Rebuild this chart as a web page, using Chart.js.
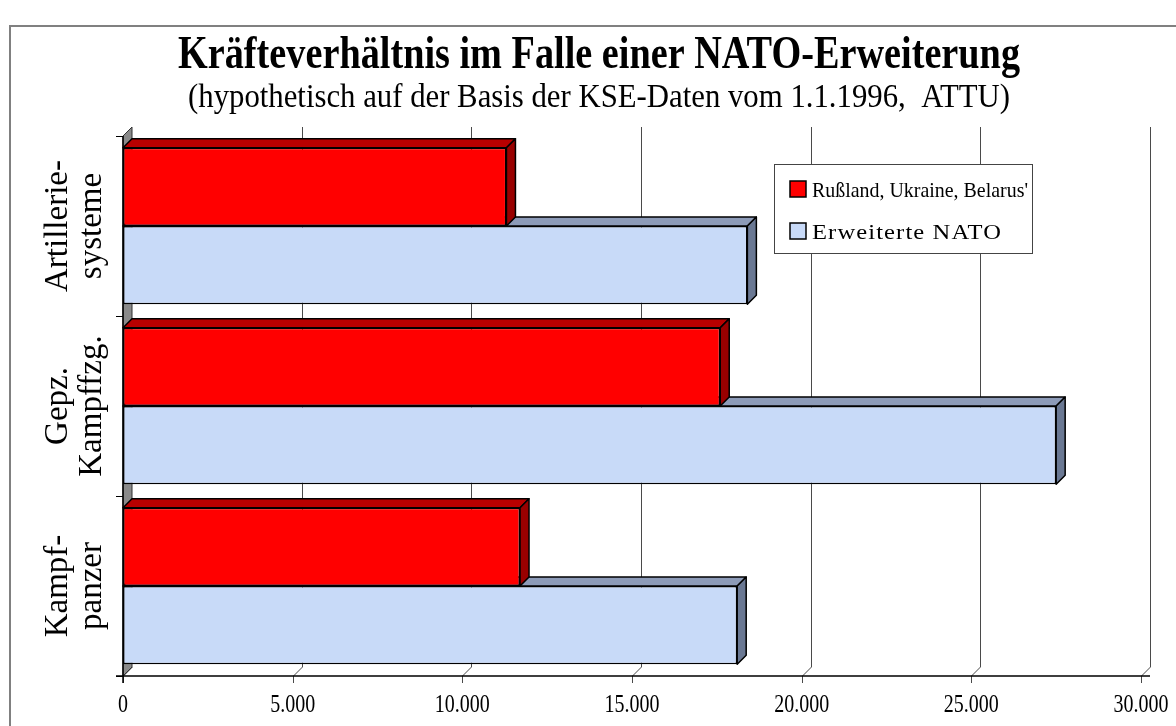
<!DOCTYPE html>
<html>
<head>
<meta charset="utf-8">
<script src="https://cdn.jsdelivr.net/npm/chart.js@4.4.1/dist/chart.umd.min.js"></script>
<style>
  html, body { margin: 0; padding: 0; background: #ffffff; }
  #wrap { width: 1176px; height: 726px; position: relative; }
</style>
</head>
<body>
<div id="wrap"><canvas id="c" width="1176" height="726"></canvas></div>
<script>
// ---- data ----
const titleText = 'Kräfteverhältnis im Falle einer NATO-Erweiterung';
const subtitleText = '(hypothetisch auf der Basis der KSE-Daten vom 1.1.1996,  ATTU)';
const categories = [['Artillerie-', 'systeme'], ['Gepz.', 'Kampffzg.'], ['Kampf-', 'panzer']];
const seriesNames = ["Rußland, Ukraine, Belarus'", 'Erweiterte NATO'];
const russiaUkraineBelarus = [11300, 17600, 11700];
const extendedNato = [18400, 27500, 18100];
const xTicks = [0, 5000, 10000, 15000, 20000, 25000, 30000];

// ---- style ----
const SERIF = '"Liberation Serif", "Times New Roman", serif';
const DEPTH = 9;
const faceColors = [
  { front: '#ff0000', top: '#b80000', side: '#990000' },
  { front: '#c8daf8', top: '#8d9bb8', side: '#6a7893' }
];

function fmt(v) { return String(v).replace(/\B(?=(\d{3})+(?!\d))/g, '.'); }

function fitText(ctx, text, x, y, font, width, align) {
  ctx.save();
  ctx.font = font;
  const w = ctx.measureText(text).width;
  const s = width ? width / w : 1;
  ctx.translate(x, y);
  ctx.scale(s, 1);
  ctx.textAlign = align || 'center';
  ctx.textBaseline = 'alphabetic';
  ctx.fillStyle = '#000';
  ctx.fillText(text, 0, 0);
  ctx.restore();
}

function poly(ctx, pts, fill, stroke, lw) {
  ctx.beginPath();
  ctx.moveTo(pts[0][0], pts[0][1]);
  for (let i = 1; i < pts.length; i++) ctx.lineTo(pts[i][0], pts[i][1]);
  ctx.closePath();
  if (fill) { ctx.fillStyle = fill; ctx.fill(); }
  if (stroke) { ctx.strokeStyle = stroke; ctx.lineWidth = lw || 1; ctx.stroke(); }
}

const scenePlugin = {
  id: 'scene',
  beforeDatasetsDraw(chart) {
    const ctx = chart.ctx;
    const a = chart.chartArea;
    const xs = chart.scales.x, ys = chart.scales.y;
    ctx.save();
    // outer frame
    ctx.strokeStyle = '#808080'; ctx.lineWidth = 2;
    ctx.beginPath(); ctx.moveTo(10, 727); ctx.lineTo(10, 26); ctx.lineTo(1177, 26); ctx.stroke();

    // titles
    fitText(ctx, titleText, 599, 68, 'bold 46px ' + SERIF, 842);
    fitText(ctx, subtitleText, 599, 107, '33px ' + SERIF, 822);

    // back gridlines + floor lines
    ctx.strokeStyle = '#4a4a4a'; ctx.lineWidth = 1;
    xTicks.forEach(v => {
      const px = Math.round(xs.getPixelForValue(v)) + 0.5;
      ctx.beginPath();
      ctx.moveTo(px, a.bottom + 7);
      ctx.lineTo(px, a.bottom);
      ctx.lineTo(px + DEPTH, a.bottom - DEPTH);
      if (v > 0) ctx.lineTo(px + DEPTH, a.top - DEPTH);
      ctx.stroke();
    });

    // left wall
    poly(ctx, [[a.left, a.top], [a.left + DEPTH, a.top - DEPTH], [a.left + DEPTH, a.bottom - DEPTH], [a.left, a.bottom]], '#8a8a8a', '#333', 1);

    // axes lines
    ctx.strokeStyle = '#000'; ctx.lineWidth = 1.5;
    ctx.beginPath();
    ctx.moveTo(a.left - 7, a.bottom); ctx.lineTo(1150, a.bottom);
    ctx.moveTo(a.left, a.top); ctx.lineTo(a.left, a.bottom + 7);
    ctx.stroke();
    // category ticks at band boundaries
    ctx.lineWidth = 1;
    for (let i = 0; i <= categories.length; i++) {
      const yy = Math.round(a.top + (a.bottom - a.top) * i / categories.length) + 0.5;
      ctx.beginPath(); ctx.moveTo(a.left - 7, yy); ctx.lineTo(a.left, yy); ctx.stroke();
    }

    // x tick labels
    xTicks.forEach(v => {
      const px = xs.getPixelForValue(v);
      ctx.save();
      ctx.font = '25px ' + SERIF;
      ctx.translate(px, 712); ctx.scale(0.8, 1);
      ctx.textAlign = 'center'; ctx.fillStyle = '#000';
      ctx.fillText(fmt(v), 0, 0);
      ctx.restore();
    });

    // category labels (rotated)
    categories.forEach((lines, i) => {
      const cy = ys.getPixelForValue(i);
      lines.forEach((t, j) => {
        ctx.save();
        ctx.translate(67 + j * 34, cy);
        ctx.rotate(-Math.PI / 2);
        ctx.font = '33px ' + SERIF;
        ctx.textAlign = 'center'; ctx.textBaseline = 'alphabetic'; ctx.fillStyle = '#000';
        ctx.fillText(t, 0, 0);
        ctx.restore();
      });
    });
    ctx.restore();
  },
  beforeDatasetDraw(chart, args) {
    const ctx = chart.ctx;
    const c = faceColors[args.index];
    ctx.save();
    ctx.lineJoin = 'round';
    args.meta.data.forEach(el => {
      const p = el.getProps(['x', 'y', 'base', 'height'], true);
      const top = p.y - p.height / 2, bottom = p.y + p.height / 2;
      const x0 = p.base, x1 = p.x;
      poly(ctx, [[x0, top], [x0 + DEPTH, top - DEPTH], [x1 + DEPTH, top - DEPTH], [x1, top]], c.top, '#000', 1.5);
      poly(ctx, [[x1, top], [x1 + DEPTH, top - DEPTH], [x1 + DEPTH, bottom - DEPTH], [x1, bottom]], c.side, '#000', 1.5);
    });
    ctx.restore();
  },
  afterDatasetsDraw(chart) {
    const ctx = chart.ctx;
    ctx.save();
    // legend box
    const bx = 774, by = 164, bw = 258, bh = 89;
    ctx.fillStyle = '#fff'; ctx.fillRect(bx, by, bw, bh);
    ctx.strokeStyle = '#444'; ctx.lineWidth = 1; ctx.strokeRect(bx + 0.5, by + 0.5, bw, bh);
    const rows = [{ y: 181, base: 197, w: 216 }, { y: 223, base: 239, w: 190 }];
    seriesNames.forEach((name, i) => {
      ctx.fillStyle = faceColors[i].front;
      ctx.fillRect(790, rows[i].y, 16, 16);
      ctx.strokeStyle = '#000'; ctx.lineWidth = 1.5;
      ctx.strokeRect(790, rows[i].y, 16, 16);
      ctx.save();
      if (i === 1) ctx.letterSpacing = '1px';
      fitText(ctx, name, 812, rows[i].base, '22px ' + SERIF, rows[i].w, 'left');
      ctx.restore();
    });
    ctx.restore();
  }
};

new Chart(document.getElementById('c'), {
  type: 'bar',
  data: {
    labels: categories,
    datasets: [
      { label: seriesNames[0], data: russiaUkraineBelarus, backgroundColor: faceColors[0].front,
        borderColor: '#000', borderWidth: 1.5, borderSkipped: false },
      { label: seriesNames[1], data: extendedNato, backgroundColor: faceColors[1].front,
        borderColor: '#000', borderWidth: 1.5, borderSkipped: false }
    ]
  },
  options: {
    indexAxis: 'y',
    responsive: false,
    devicePixelRatio: 1,
    animation: false,
    categoryPercentage: 0.87,
    barPercentage: 1.0,
    layout: { padding: { left: 123, top: 136, right: 35, bottom: 50 } },
    scales: {
      x: { display: false, min: 0, max: 30000, ticks: { stepSize: 5000 } },
      y: { display: false }
    },
    plugins: { legend: { display: false }, title: { display: false }, tooltip: { enabled: false } }
  },
  plugins: [scenePlugin]
});
</script>
</body>
</html>
